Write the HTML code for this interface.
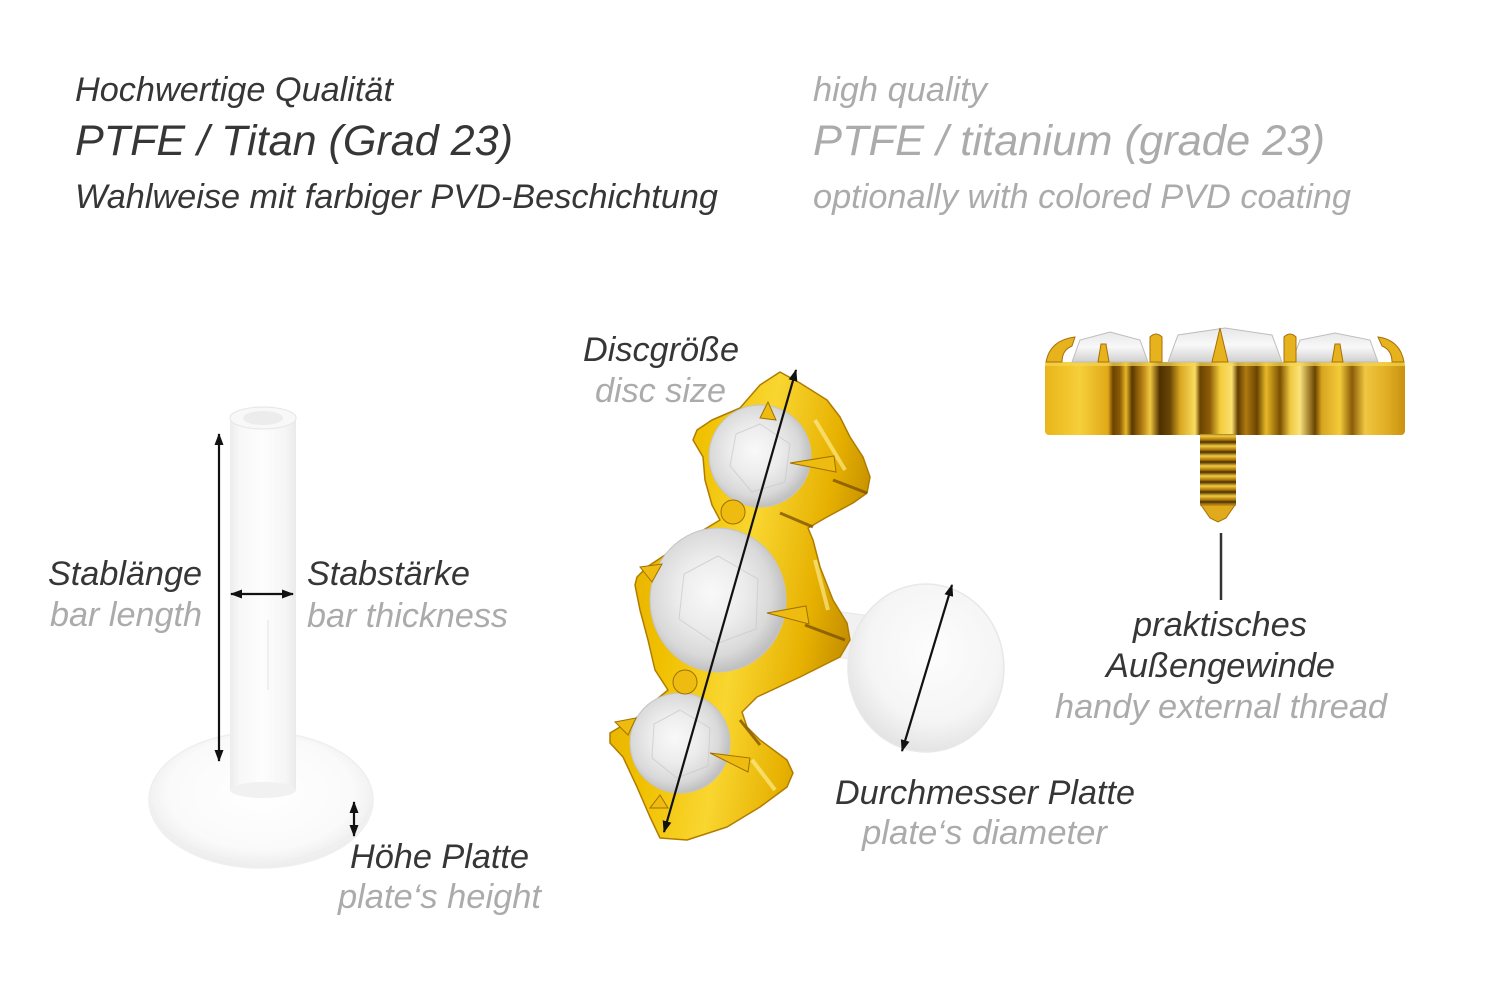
<!DOCTYPE html>
<html><head><meta charset="utf-8">
<style>
html,body{margin:0;padding:0;background:#fff;}
svg{display:block;}
text{font-family:"Liberation Sans",Arial,sans-serif;font-style:italic;font-size:34px;}
.d{fill:#363636;}
.g{fill:#ababab;}
</style></head><body>
<svg width="1500" height="1001" viewBox="0 0 1500 1001" xmlns="http://www.w3.org/2000/svg">
<defs>
  <marker id="ah" viewBox="0 0 12 9" refX="11" refY="4.5" markerWidth="12" markerHeight="9" markerUnits="userSpaceOnUse" orient="auto-start-reverse">
    <path d="M0,0 L12,4.5 L0,9 z" fill="#111"/>
  </marker>
  <linearGradient id="tube" x1="0" y1="0" x2="1" y2="0">
    <stop offset="0" stop-color="#ececec"/>
    <stop offset="0.15" stop-color="#f8f8f8"/>
    <stop offset="0.5" stop-color="#fdfdfd"/>
    <stop offset="0.85" stop-color="#f5f5f5"/>
    <stop offset="1" stop-color="#eaeaea"/>
  </linearGradient>
  <radialGradient id="plate" cx="0.5" cy="0.45" r="0.55">
    <stop offset="0" stop-color="#ffffff"/>
    <stop offset="0.75" stop-color="#fafafa"/>
    <stop offset="1" stop-color="#ececec"/>
  </radialGradient>
  <radialGradient id="disc" cx="0.55" cy="0.4" r="0.6">
    <stop offset="0" stop-color="#fdfdfd"/>
    <stop offset="0.7" stop-color="#f5f5f5"/>
    <stop offset="1" stop-color="#e4e4e4"/>
  </radialGradient>
  <linearGradient id="gold" x1="0" y1="0" x2="1" y2="0.3">
    <stop offset="0" stop-color="#e0a800"/>
    <stop offset="0.35" stop-color="#f0c000"/>
    <stop offset="0.6" stop-color="#f9d630"/>
    <stop offset="0.85" stop-color="#e6b000"/>
    <stop offset="1" stop-color="#c48f00"/>
  </linearGradient>
  <radialGradient id="crys" cx="0.45" cy="0.45" r="0.55">
    <stop offset="0" stop-color="#f9f9f9"/>
    <stop offset="0.45" stop-color="#ececec"/>
    <stop offset="0.8" stop-color="#d9d9d9"/>
    <stop offset="1" stop-color="#c0c0c0"/>
  </radialGradient>
  <linearGradient id="gem" x1="0" y1="0" x2="0" y2="1">
    <stop offset="0" stop-color="#e8e8e8"/>
    <stop offset="0.5" stop-color="#f8f8f8"/>
    <stop offset="1" stop-color="#cfcfcf"/>
  </linearGradient>
  <linearGradient id="band" gradientUnits="userSpaceOnUse" x1="1045" y1="0" x2="1405" y2="0">
    <stop offset="0" stop-color="#e9b51a"/>
    <stop offset="0.097" stop-color="#f6cf3a"/>
    <stop offset="0.175" stop-color="#e0a818"/>
    <stop offset="0.189" stop-color="#6b4200"/>
    <stop offset="0.208" stop-color="#8a5c08"/>
    <stop offset="0.225" stop-color="#e7b524"/>
    <stop offset="0.242" stop-color="#5a3800"/>
    <stop offset="0.269" stop-color="#b07a10"/>
    <stop offset="0.292" stop-color="#f0c640"/>
    <stop offset="0.319" stop-color="#4e3000"/>
    <stop offset="0.347" stop-color="#6a4505"/>
    <stop offset="0.375" stop-color="#d9a620"/>
    <stop offset="0.417" stop-color="#f9dc60"/>
    <stop offset="0.431" stop-color="#6b4300"/>
    <stop offset="0.458" stop-color="#8d5c08"/>
    <stop offset="0.486" stop-color="#f3cc3a"/>
    <stop offset="0.519" stop-color="#fbe070"/>
    <stop offset="0.536" stop-color="#5f3c00"/>
    <stop offset="0.558" stop-color="#b07a10"/>
    <stop offset="0.589" stop-color="#6a4300"/>
    <stop offset="0.614" stop-color="#e8b828"/>
    <stop offset="0.653" stop-color="#7a5000"/>
    <stop offset="0.681" stop-color="#f0c840"/>
    <stop offset="0.708" stop-color="#fbe27a"/>
    <stop offset="0.75" stop-color="#6a4400"/>
    <stop offset="0.769" stop-color="#d8a420"/>
    <stop offset="0.819" stop-color="#f3cb3a"/>
    <stop offset="0.853" stop-color="#8a5c08"/>
    <stop offset="0.889" stop-color="#f0c640"/>
    <stop offset="0.944" stop-color="#e2b024"/>
    <stop offset="1" stop-color="#c99212"/>
  </linearGradient>
  <linearGradient id="thread" gradientUnits="userSpaceOnUse" x1="0" y1="436" x2="0" y2="446" spreadMethod="repeat">
    <stop offset="0" stop-color="#f2cc40"/>
    <stop offset="0.4" stop-color="#a87208"/>
    <stop offset="0.6" stop-color="#4a2e00"/>
    <stop offset="1" stop-color="#f2cc40"/>
  </linearGradient>
</defs>

<!-- Header text -->
<text class="d" x="75" y="101" textLength="318" lengthAdjust="spacingAndGlyphs">Hochwertige Qualität</text>
<text class="d" x="75" y="155" style="font-size:43px" textLength="438" lengthAdjust="spacingAndGlyphs">PTFE / Titan (Grad 23)</text>
<text class="d" x="75" y="208" textLength="643" lengthAdjust="spacingAndGlyphs">Wahlweise mit farbiger PVD-Beschichtung</text>
<text class="g" x="813" y="101" textLength="174" lengthAdjust="spacingAndGlyphs">high quality</text>
<text class="g" x="813" y="155" style="font-size:43px" textLength="512" lengthAdjust="spacingAndGlyphs">PTFE / titanium (grade 23)</text>
<text class="g" x="813" y="208" textLength="538" lengthAdjust="spacingAndGlyphs">optionally with colored PVD coating</text>

<!-- Left PTFE labret -->
<ellipse cx="261" cy="800" rx="112" ry="68" fill="url(#plate)" stroke="#efefef" stroke-width="1.5"/>
<path d="M152,805 Q160,850 261,866 Q360,850 371,805" fill="none" stroke="#efefef" stroke-width="2"/>
<rect x="230" y="418" width="66" height="372" fill="url(#tube)"/>
<ellipse cx="263" cy="790" rx="33" ry="8" fill="#f1f1f1"/>
<ellipse cx="263" cy="418" rx="33" ry="11" fill="#f8f8f8" stroke="#e8e8e8" stroke-width="1.2"/>
<ellipse cx="263" cy="418" rx="20" ry="7" fill="#ececec"/>
<line x1="268" y1="620" x2="268" y2="690" stroke="#efefef" stroke-width="2"/>

<!-- Center: PTFE stem + disc -->
<polygon points="828,610 885,618 885,664 828,656" fill="#f1f1f1" stroke="#e6e6e6" stroke-width="1"/>
<ellipse cx="926" cy="668" rx="78" ry="84" fill="url(#disc)" stroke="#e8e8e8" stroke-width="1.5"/>

<!-- Gold zigzag -->
<polygon fill="url(#gold)" stroke="#b07c00" stroke-width="1.5" stroke-linejoin="round"
 points="780,372 800,383 827,400 840,417 850,437 863,457 870,477 867,493 853,503 827,517 808,528 813,540 820,567 833,600 847,623 850,640 840,657 800,677 757,697 742,712 747,727 760,740 787,760 793,773 787,787 760,807 727,827 687,840 660,838 650,817 637,787 623,757 610,743 610,733 620,727 632,722 650,705 668,690 655,670 648,640 640,610 635,585 637,577 647,567 665,555 700,532 720,520 712,505 705,480 703,457 693,440 697,430 712,420 740,408 760,385"/>
<g fill="none" stroke="#7a4e00" stroke-width="3" opacity="0.75">
  <path d="M833,480 L867,493"/>
  <path d="M780,513 L813,527"/>
  <path d="M805,625 L845,640"/>
  <path d="M740,720 L760,745"/>
</g>
<g fill="none" stroke="#fff3a0" stroke-width="4" opacity="0.6">
  <path d="M815,420 L845,470"/>
  <path d="M815,560 L828,610"/>
  <path d="M752,760 L775,790"/>
</g>

<!-- crystals -->
<circle cx="760" cy="456" r="51" fill="url(#crys)" stroke="#c4c4c4" stroke-width="1"/>
<ellipse cx="718" cy="600" rx="68" ry="72" fill="url(#crys)" stroke="#c4c4c4" stroke-width="1"/>
<circle cx="680" cy="743" r="50" fill="url(#crys)" stroke="#c4c4c4" stroke-width="1"/>
<g stroke="#c8c8c8" stroke-width="1" fill="none" opacity="0.7">
  <polygon points="760,424 790,444 785,482 752,492 730,466 736,434"/>
  <polygon points="718,556 758,579 756,629 716,644 679,619 684,574"/>
  <polygon points="680,710 710,728 708,766 677,778 652,758 654,724"/>
</g>
<!-- prongs / balls -->
<g fill="#eebc10" stroke="#a07000" stroke-width="1">
  <path d="M760,418 L768,402 L776,420 Z"/>
  <path d="M790,463 L834,456 L836,472 Z"/>
  <path d="M767,613 L806,606 L809,624 Z"/>
  <path d="M652,582 L640,567 L662,564 Z"/>
  <path d="M710,753 L750,758 L748,772 Z"/>
  <path d="M628,735 L615,722 L636,718 Z"/>
  <path d="M660,795 L650,808 L668,808 Z"/>
  <circle cx="733" cy="512" r="12"/>
  <circle cx="685" cy="682" r="12"/>
</g>

<!-- Right gold dermal top -->
<rect x="1045" y="362" width="360" height="73" rx="4" fill="url(#band)"/>
<rect x="1045" y="362" width="360" height="4" fill="#f7d650" opacity="0.7"/>
<polygon points="1072,362 1080,340 1110,332 1140,340 1148,362" fill="url(#gem)" stroke="#bdbdbd" stroke-width="1"/>
<polygon points="1168,362 1178,335 1225,328 1272,335 1282,362" fill="url(#gem)" stroke="#bdbdbd" stroke-width="1"/>
<polygon points="1292,362 1300,340 1335,333 1370,340 1378,362" fill="url(#gem)" stroke="#bdbdbd" stroke-width="1"/>
<g fill="#e6b21e" stroke="#a87008" stroke-width="1">
  <path d="M1046,362 Q1050,340 1075,337 L1072,346 Q1062,350 1062,362 Z"/>
  <path d="M1404,362 Q1400,340 1378,337 L1382,346 Q1392,350 1392,362 Z"/>
  <path d="M1098,362 L1101,344 L1106,344 L1109,362 Z"/>
  <path d="M1150,362 L1150,337 Q1156,331 1162,337 L1162,362 Z"/>
  <path d="M1212,362 L1220,328 L1228,362 Z"/>
  <path d="M1284,362 L1284,337 Q1290,331 1296,337 L1296,362 Z"/>
  <path d="M1332,362 L1335,344 L1340,344 L1343,362 Z"/>
</g>
<rect x="1200" y="434" width="36" height="72" fill="url(#thread)"/>
<polygon points="1201,505 1235,505 1226,518 1218,522 1210,518" fill="#e0aa1c" stroke="#a87008" stroke-width="1"/>
<line x1="1221" y1="533" x2="1221" y2="600" stroke="#333" stroke-width="2.5"/>

<!-- Arrows -->
<g stroke="#111" stroke-width="2.2" marker-start="url(#ah)" marker-end="url(#ah)">
  <line x1="219" y1="434" x2="219" y2="761"/>
  <line x1="231" y1="594" x2="293" y2="594"/>
  <line x1="354" y1="802" x2="354" y2="836"/>
  <line x1="796" y1="370" x2="664" y2="832"/>
  <line x1="952" y1="585" x2="902" y2="751"/>
</g>

<!-- Labels -->
<text class="d" x="48" y="585" textLength="154" lengthAdjust="spacingAndGlyphs">Stablänge</text>
<text class="g" x="50" y="626" textLength="152" lengthAdjust="spacingAndGlyphs">bar length</text>
<text class="d" x="307" y="585" textLength="163" lengthAdjust="spacingAndGlyphs">Stabstärke</text>
<text class="g" x="307" y="627" textLength="201" lengthAdjust="spacingAndGlyphs">bar thickness</text>
<text class="d" x="350" y="868" textLength="179" lengthAdjust="spacingAndGlyphs">Höhe Platte</text>
<text class="g" x="338" y="908" textLength="203" lengthAdjust="spacingAndGlyphs">plate‘s height</text>
<text class="d" x="583" y="361" textLength="156" lengthAdjust="spacingAndGlyphs">Discgröße</text>
<text class="g" x="595" y="402" textLength="131" lengthAdjust="spacingAndGlyphs">disc size</text>
<text class="d" x="835" y="804" textLength="300" lengthAdjust="spacingAndGlyphs">Durchmesser Platte</text>
<text class="g" x="862" y="844" textLength="245" lengthAdjust="spacingAndGlyphs">plate‘s diameter</text>
<text class="d" x="1133" y="636" textLength="174" lengthAdjust="spacingAndGlyphs">praktisches</text>
<text class="d" x="1106" y="677" textLength="229" lengthAdjust="spacingAndGlyphs">Außengewinde</text>
<text class="g" x="1055" y="718" textLength="332" lengthAdjust="spacingAndGlyphs">handy external thread</text>
</svg>
</body></html>
